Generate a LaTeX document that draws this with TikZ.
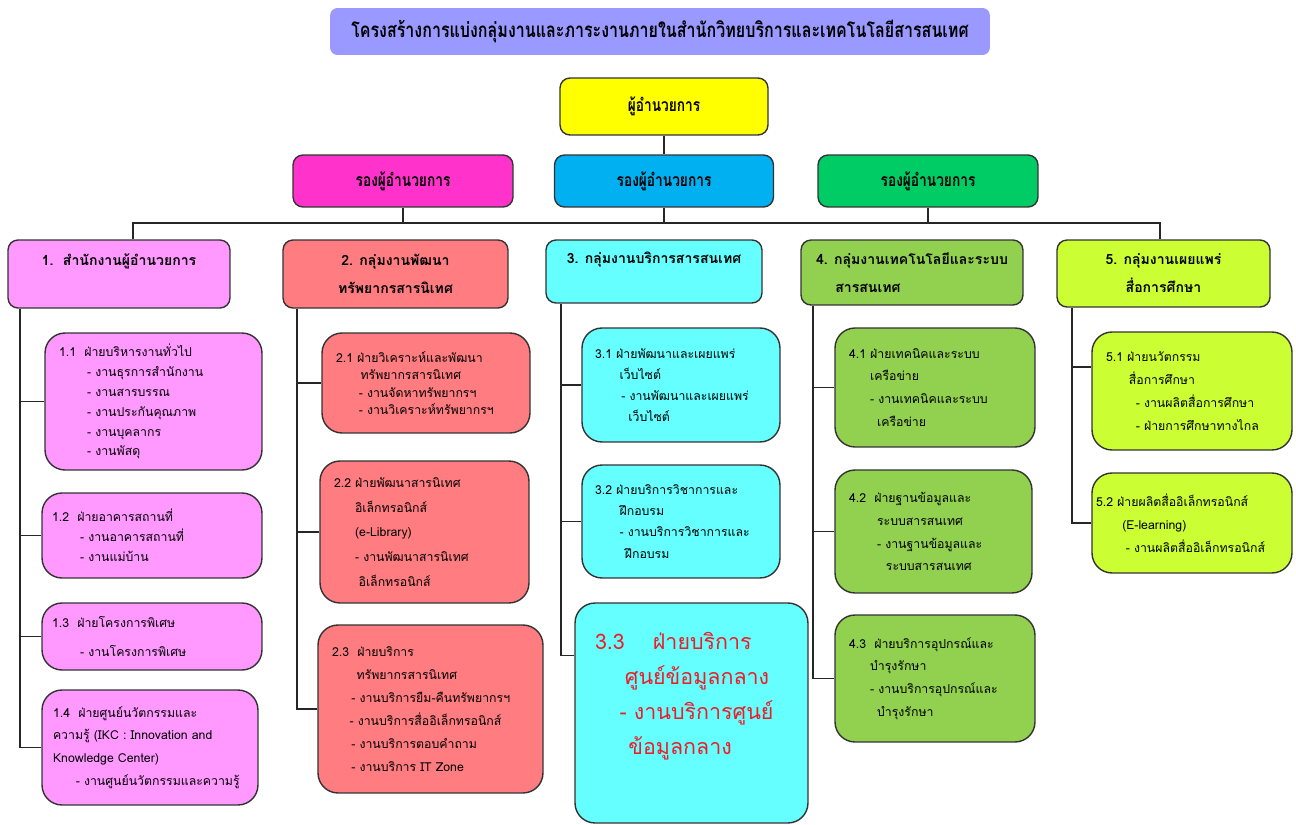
\documentclass[tikz,border=0pt]{standalone}
\usepackage{fontspec}
\setmainfont[Script=Thai]{Loma}
\newfontfamily\headfont[Script=Thai, FakeStretch=0.78]{Loma}
\usetikzlibrary{positioning, calc}

\definecolor{titlebg}{RGB}{153,153,255}
\definecolor{diryellow}{RGB}{255,255,0}
\definecolor{deppink}{RGB}{255,51,204}
\definecolor{depblue}{RGB}{0,176,240}
\definecolor{depgreen}{RGB}{0,204,102}
\definecolor{grpone}{RGB}{255,153,255}
\definecolor{grptwo}{RGB}{255,124,128}
\definecolor{grpthree}{RGB}{102,255,255}
\definecolor{grpfour}{RGB}{146,208,80}
\definecolor{grpfive}{RGB}{204,255,51}
\definecolor{alertred}{RGB}{235,30,40}

\begin{document}
\begin{tikzpicture}[x=0.02cm, y=-0.02cm]
        \tikzstyle{head} = [rectangle, rounded corners=0.2cm, inner sep=0pt, align=center, draw=black!80, line width=0.8pt, font=\headfont\bfseries\fontsize{10}{12}\selectfont]
        \tikzstyle{group} = [rectangle, rounded corners=0.2cm, inner sep=0pt, align=center, draw=black!80, line width=0.8pt, font=\bfseries\fontsize{8}{16}\selectfont]
        \tikzstyle{sub} = [rectangle, rounded corners=0.4cm, inner xsep=0.28cm, inner ysep=0pt, align=left, draw=black!80, line width=0.8pt, font=\fontsize{7}{13}\selectfont]
        \tikzstyle{link} = [line width=0.8pt, draw=black!85]

        \useasboundingbox (0,0) rectangle (1296,825);

        \node (title) [head, draw=none, fill=titlebg, rounded corners=0.15cm, minimum width=13.2cm, minimum height=0.94cm, font=\headfont\bfseries\fontsize{11.7}{14}\selectfont] at (660,31.5) {โครงสร้างการแบ่งกลุ่มงานและภาระงานภายในสำนักวิทยบริการและเทคโนโลยีสารสนเทศ};
        \node (dir) [head, fill=diryellow, minimum width=4.16cm, minimum height=1.14cm] at (664,106.5) {ผู้อำนวยการ};
        \node (dep1) [head, fill=deppink, minimum width=4.4cm, minimum height=1.04cm] at (403,181) {รองผู้อำนวยการ};
        \node (dep2) [head, fill=depblue, minimum width=4.38cm, minimum height=1.04cm] at (664,181) {รองผู้อำนวยการ};
        \node (dep3) [head, fill=depgreen, minimum width=4.4cm, minimum height=1.04cm] at (928,181) {รองผู้อำนวยการ};

        \node (g1) [group, fill=grpone, minimum width=4.44cm, minimum height=1.36cm] at (119,274) {1.\ \ สำนักงานผู้อำนวยการ\\ ~};
        \node (g2) [group, fill=grptwo, minimum width=4.5cm, minimum height=1.36cm] at (395.5,274) {2. กลุ่มงานพัฒนา\\ทรัพยากรสารนิเทศ};
        \node (g3) [group, fill=grpthree, minimum width=4.32cm, minimum height=1.26cm] at (654,271.5) {3. กลุ่มงานบริการสารสนเทศ\\ ~};
        \node (g4) [group, fill=grpfour, minimum width=4.44cm, minimum height=1.3cm, align=left] at (912,272.5) {4. กลุ่มงานเทคโนโลยีและระบบ\\ \hspace*{11pt}สารสนเทศ};
        \node (g5) [group, fill=grpfive, minimum width=4.26cm, minimum height=1.34cm] at (1163.5,273.5) {5. กลุ่มงานเผยแพร่\\สื่อการศึกษา};

        \node (s11) [sub, fill=grpone, text width=3.78cm, minimum height=2.74cm, font=\fontsize{7}{11.3}\selectfont] at (153.5,401.5) {1.1~~ฝ่ายบริหารงานทั่วไป\\ \hspace*{16pt}-~งานธุรการสำนักงาน\\ \hspace*{16pt}-~งานสารบรรณ\\ \hspace*{16pt}-~งานประกันคุณภาพ\\ \hspace*{16pt}-~งานบุคลากร\\ \hspace*{16pt}-~งานพัสดุ};
        \node (s12) [sub, fill=grpone, text width=3.84cm, minimum height=1.7cm, font=\fontsize{7}{11.3}\selectfont, inner xsep=0.2cm, text width=4.0cm] at (152,535.5) {1.2~~ฝ่ายอาคารสถานที่\\ \hspace*{16pt}-~งานอาคารสถานที่\\ \hspace*{16pt}-~งานแม่บ้าน};
        \node (s13) [sub, fill=grpone, minimum height=1.34cm, font=\fontsize{7}{16}\selectfont, inner xsep=0.2cm, text width=4.0cm] at (152,636.5) {1.3~~ฝ่ายโครงการพิเศษ\\ \hspace*{16pt}-~งานโครงการพิเศษ};
        \node (s14) [sub, fill=grpone, minimum height=2.3cm, inner xsep=0.22cm, text width=3.88cm] at (150,747.5) {1.4~~ฝ่ายศูนย์นวัตกรรมและ\\ความรู้~(IKC~:~Innovation~and\\Knowledge~Center)\\ \hspace*{13pt}-~งานศูนย์นวัตกรรมและความรู้};

        \node (s21) [sub, fill=grptwo, text width=3.6cm, minimum height=2.0cm, font=\fontsize{7}{10}\selectfont] at (426,383) {2.1~ฝ่ายวิเคราะห์และพัฒนา\\ \hspace*{14pt}ทรัพยากรสารนิเทศ\\ \hspace*{13pt}-~งานจัดหาทรัพยากรฯ\\ \hspace*{13pt}-~งานวิเคราะห์ทรัพยากรฯ};
        \node (s22) [sub, fill=grptwo, text width=3.62cm, minimum height=2.84cm, font=\fontsize{7}{14}\selectfont] at (424.5,532) {2.2~ฝ่ายพัฒนาสารนิเทศ\\ \hspace*{12pt}อิเล็กทรอนิกส์\\ \hspace*{12pt}(e-Library)\\ \hspace*{12pt}-~งานพัฒนาสารนิเทศ\\ \hspace*{14pt}อิเล็กทรอนิกส์};
        \node (s23) [sub, fill=grptwo, text width=3.94cm, minimum height=3.36cm] at (430.5,709) {2.3~~ฝ่ายบริการ\\ \hspace*{14pt}ทรัพยากรสารนิเทศ\\ \hspace*{11pt}-~งานบริการยืม-คืนทรัพยากรฯ\\ \hspace*{10pt}-~งานบริการสื่ออิเล็กทรอนิกส์\\ \hspace*{11pt}-~งานบริการตอบคำถาม\\ \hspace*{11pt}-~งานบริการ~IT~Zone};

        \node (s31) [sub, fill=grpthree, inner xsep=0.26cm, text width=3.44cm, minimum height=2.28cm, font=\fontsize{7}{12}\selectfont] at (681,385) {3.1~ฝ่ายพัฒนาและเผยแพร่\\ \hspace*{14pt}เว็บไซต์\\ \hspace*{15pt}-~งานพัฒนาและเผยแพร่\\ \hspace*{19pt}เว็บไซต์};
        \node (s32) [sub, fill=grpthree, inner xsep=0.26cm, text width=3.44cm, minimum height=2.26cm, font=\fontsize{7}{12}\selectfont] at (681,521.5) {3.2~ฝ่ายบริการวิชาการและ\\ \hspace*{14pt}ฝึกอบรม\\ \hspace*{14pt}-~งานบริการวิชาการและ\\ \hspace*{17pt}ฝึกอบรม};
        \node (s33) [sub, fill=grpthree, inner xsep=0.4cm, text width=3.86cm, minimum height=4.4cm, font=\fontsize{12.2}{20}\selectfont, text=alertred] at (691.5,713) {3.3\hspace*{16pt}ฝ่ายบริการ\\ \hspace*{17pt}ศูนย์ข้อมูลกลาง\\ \hspace*{14pt}-~งานบริการศูนย์\\ \hspace*{19pt}ข้อมูลกลาง\\[2pt] ~};

        \node (s41) [sub, fill=grpfour, text width=3.44cm, minimum height=2.38cm] at (935,387.5) {4.1~ฝ่ายเทคนิคและระบบ\\ \hspace*{12pt}เครือข่าย\\ \hspace*{12pt}-~งานเทคนิคและระบบ\\ \hspace*{16pt}เครือข่าย};
        \node (s42) [sub, fill=grpfour, text width=3.38cm, minimum height=2.46cm] at (933.5,531.5) {4.2~~ฝ่ายฐานข้อมูลและ\\ \hspace*{16pt}ระบบสารสนเทศ\\ \hspace*{16pt}-~งานฐานข้อมูลและ\\ \hspace*{21pt}ระบบสารสนเทศ};
        \node (s43) [sub, fill=grpfour, text width=3.44cm, minimum height=2.54cm] at (935,678.5) {4.3~~ฝ่ายบริการอุปกรณ์และ\\ \hspace*{12pt}บำรุงรักษา\\ \hspace*{12pt}-~งานบริการอุปกรณ์และ\\ \hspace*{16pt}บำรุงรักษา};

        \node (s51) [sub, fill=grpfive, text width=3.44cm, minimum height=2.36cm] at (1192,391) {5.1~ฝ่ายนวัตกรรม\\ \hspace*{13pt}สื่อการศึกษา\\ \hspace*{17pt}-~งานผลิตสื่อการศึกษา\\ \hspace*{17pt}-~ฝ่ายการศึกษาทางไกล};
        \node (s52) [sub, fill=grpfive, inner xsep=0.08cm, text width=3.84cm, minimum height=2.0cm] at (1192,523) {5.2~ฝ่ายผลิตสื่ออิเล็กทรอนิกส์\\ \hspace*{15pt}(E-learning)\\ \hspace*{17pt}-~งานผลิตสื่ออิเล็กทรอนิกส์};

        \coordinate (bus) at (0,223);
        \coordinate (drop1) at (133,223);
        \coordinate (drop5) at (1160,223);
        \coordinate (sp1) at (20,0);
        \coordinate (sp2) at (297,0);
        \coordinate (sp3) at (561,0);
        \coordinate (sp4) at (813,0);
        \coordinate (sp5) at (1072,0);
        \coordinate (s33in) at ($(s33.north west)!0.24!(s33.south west)$);
        \coordinate (s51in) at ($(s51.north west)!0.3!(s51.south west)$);

        \draw [link] (dir.south) -- (dir.south |- dep2.north);
        \draw [link] (dep1.south) -- (dep1.south |- bus);
        \draw [link] (dep2.south) -- (dep2.south |- bus);
        \draw [link] (dep3.south) -- (dep3.south |- bus);
        \draw [link] (drop1 |- g1.north) -- (drop1) -- (drop5) -- (drop5 |- g5.north);

        \draw [link] (sp1 |- g1.south) |- (s14.west);
        \draw [link] (sp1 |- s11.west) -- (s11.west);
        \draw [link] (sp1 |- s12.west) -- (s12.west);
        \draw [link] (sp1 |- s13.west) -- (s13.west);

        \draw [link] (sp2 |- g2.south) |- (s23.west);
        \draw [link] (sp2 |- s21.west) -- (s21.west);
        \draw [link] (sp2 |- s22.west) -- (s22.west);

        \draw [link] (sp3 |- g3.south) |- (s33in);
        \draw [link] (sp3 |- s31.west) -- (s31.west);
        \draw [link] (sp3 |- s32.west) -- (s32.west);

        \draw [link] (sp4 |- g4.south) |- (s43.west);
        \draw [link] (sp4 |- s41.west) -- (s41.west);
        \draw [link] (sp4 |- s42.west) -- (s42.west);

        \draw [link] (sp5 |- g5.south) |- (s52.west);
        \draw [link] (sp5 |- s51in) -- (s51in);
    \end{tikzpicture}
\end{document}
